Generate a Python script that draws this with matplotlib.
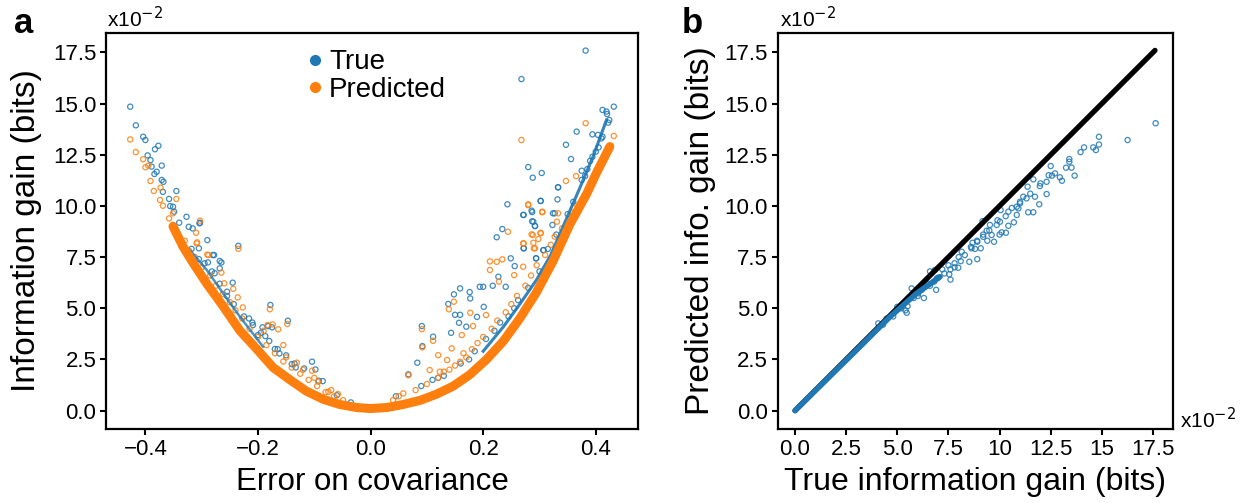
# info gain vs covariance error (a) and predicted vs true info gain (b)

import matplotlib.pyplot as plt
from matplotlib.lines import Line2D

plt.rcParams['font.family'] = ['Liberation Sans', 'DejaVu Sans']

BLUE = '#1f77b4'
ORANGE = '#ff7f0e'

# ---- panel a ----  (values in units of 1e-2 bits)
# dense core of the predicted points
core_pred_x = [-0.351, -0.333, -0.315, -0.291, -0.262, -0.232, -0.202, -0.173, -0.143, -0.114,
               -0.084, -0.055, -0.025, 0.0, 0.029, 0.058, 0.088, 0.117, 0.147, 0.176,
               0.206, 0.236, 0.265, 0.295, 0.324, 0.354, 0.384, 0.401, 0.425]
core_pred_y = [9.0, 8.0, 7.2, 6.2, 5.1, 3.9, 3.0, 2.1, 1.5, 0.95,
               0.55, 0.3, 0.15, 0.1, 0.15, 0.3, 0.5, 0.8, 1.2, 1.75,
               2.5, 3.4, 4.5, 5.8, 7.3, 9.1, 10.6, 11.6, 12.9]

# dense core of the true points, just above the predicted core
core_true_left_x = [-0.321, -0.291, -0.262, -0.232, -0.191]
core_true_left_y = [7.84, 6.87, 5.73, 4.58, 3.12]
core_true_right_x = [0.200, 0.236, 0.265, 0.295, 0.320, 0.342, 0.372, 0.395, 0.419]
core_true_right_y = [2.9, 4.1, 5.2, 6.4, 7.6, 9.0, 10.9, 12.4, 14.2]

true_x = [-0.427, -0.417, -0.404, -0.400, -0.377, -0.383, -0.396, -0.391, -0.371, -0.389,
          -0.380, -0.384, -0.371, -0.368, -0.345, -0.369, -0.358, -0.356, -0.351, -0.349,
          -0.327, -0.340, -0.303, -0.316, -0.323, -0.290, -0.280, -0.235, -0.305, -0.304,
          -0.278, -0.268, -0.265, -0.289, -0.277, -0.268, -0.245, -0.255, -0.178, -0.147,
          -0.216, -0.209, -0.192, -0.182, -0.175, -0.200, -0.187, -0.170, -0.162, -0.104,
          -0.118, -0.133, -0.140, -0.098, -0.085, -0.092, -0.060, -0.035,
          -0.318, -0.305, -0.295, -0.282, -0.268, -0.255, -0.243, -0.225, -0.210, -0.195,
          -0.180, -0.165, -0.150, -0.135,
          0.243, 0.272, 0.302, 0.287, 0.287, 0.292, 0.234, 0.224, 0.272, 0.249,
          0.256, 0.294, 0.307, 0.227, 0.159, 0.176, 0.148, 0.194, 0.200, 0.217,
          0.240, 0.138, 0.201, 0.177, 0.159, 0.150, 0.189, 0.157, 0.091, 0.111,
          0.092, 0.143, 0.170, 0.083, 0.067, 0.327, 0.333, 0.323, 0.045, 0.120,
          0.382, 0.268, 0.432, 0.412, 0.419, 0.420, 0.424, 0.422, 0.366, 0.394,
          0.404, 0.412, 0.347, 0.405, 0.400, 0.394, 0.356, 0.280, 0.304, 0.288,
          0.375, 0.381, 0.375, 0.333, 0.302, 0.332, 0.271, 0.286, 0.324, 0.289,
          0.292, 0.272, 0.307, 0.294,
          0.090, 0.110, 0.130, 0.160, 0.175, 0.185, 0.205, 0.220, 0.230, 0.245,
          0.255, 0.262, 0.280, 0.300, 0.315, 0.330, 0.350, 0.360, 0.385, 0.390,
          0.410]
true_y = [14.85, 13.94, 13.38, 13.22, 12.94, 12.77, 12.47, 12.24, 11.97, 11.92,
          11.67, 11.56, 11.27, 11.18, 10.73, 10.69, 10.34, 9.99, 9.96, 9.72,
          9.47, 9.18, 9.18, 8.90, 8.98, 8.33, 7.60, 8.05, 7.93, 9.15,
          7.60, 7.31, 7.24, 7.24, 6.71, 6.95, 6.25, 5.81, 5.16, 4.39,
          4.50, 4.18, 4.07, 4.13, 4.07, 3.69, 3.64, 3.01, 2.79, 2.39,
          2.06, 2.11, 2.27, 2.01, 1.44, 1.46, 0.75, 0.40,
          7.9, 7.4, 7.2, 6.8, 6.2, 5.6, 5.2, 4.6, 4.3, 3.8,
          3.4, 3.0, 2.7, 2.3,
          10.08, 9.56, 10.25, 9.70, 9.25, 9.02, 8.87, 8.47, 7.93, 7.44,
          7.06, 7.44, 7.84, 6.54, 5.97, 5.79, 5.68, 6.05, 6.05, 6.10,
          6.05, 5.21, 5.07, 5.48, 4.68, 4.68, 4.58, 4.29, 4.13, 3.61,
          3.15, 3.80, 4.10, 2.34, 1.77, 9.64, 10.91, 9.07, 0.70, 1.60,
          17.59, 16.20, 14.85, 14.69, 14.61, 14.49, 14.20, 14.07, 13.63, 13.50,
          13.47, 13.38, 12.99, 12.86, 12.65, 12.40, 12.29, 11.90, 11.61, 11.38,
          11.72, 11.46, 11.27, 10.91, 10.24, 10.32, 9.56, 9.77, 9.64, 9.23,
          9.02, 7.93, 7.84, 7.44,
          1.2, 1.5, 1.7, 2.3, 2.5, 2.9, 3.5, 3.9, 4.3, 4.6,
          5.0, 5.4, 6.0, 6.8, 7.9, 8.6, 9.6, 10.2, 11.8, 12.2,
          13.3]

pred_x = [-0.427, -0.417, -0.404, -0.395, -0.400, -0.391, -0.385, -0.373, -0.374, -0.345,
          -0.369, -0.351, -0.358, -0.303, -0.351, -0.346, -0.342, -0.309, -0.288, -0.235,
          -0.330, -0.310, -0.308, -0.290, -0.265, -0.260, -0.244, -0.236, -0.227, -0.179,
          -0.183, -0.174, -0.164, -0.148, -0.190, -0.155, -0.131, -0.104, -0.093, -0.075,
          -0.058, -0.049,
          -0.330, -0.322, -0.312, -0.300, -0.285, -0.275, -0.262, -0.250, -0.240, -0.228,
          -0.215, -0.200, -0.185, -0.170, -0.155, -0.140, -0.125, -0.110, -0.095, -0.080,
          -0.065, -0.150, -0.120, -0.100, -0.070,
          0.280, 0.244, 0.305, 0.302, 0.286, 0.272, 0.290, 0.234, 0.224, 0.212,
          0.212, 0.228, 0.255, 0.148, 0.177, 0.205, 0.182, 0.139, 0.091, 0.111,
          0.092, 0.120, 0.136, 0.144, 0.162, 0.067, 0.105, 0.123, 0.159, 0.058,
          0.040,
          0.268, 0.382, 0.432, 0.365, 0.347, 0.280, 0.305, 0.288, 0.302, 0.298,
          0.271, 0.289, 0.292, 0.271, 0.333, 0.331, 0.327,
          0.080, 0.100, 0.120, 0.140, 0.150, 0.170, 0.180, 0.190, 0.200, 0.215,
          0.225, 0.240, 0.250, 0.260, 0.275, 0.285, 0.295, 0.310, 0.320, 0.340,
          0.360, 0.050, 0.130, 0.165]
pred_y = [13.25, 12.63, 12.28, 11.97, 11.89, 11.22, 10.73, 10.89, 10.29, 10.34,
          10.01, 9.64, 9.39, 9.28, 9.07, 8.82, 8.58, 8.17, 7.60, 7.91,
          7.88, 8.69, 8.22, 7.62, 6.74, 6.22, 5.95, 5.53, 5.04, 4.95,
          4.18, 4.21, 3.97, 4.23, 3.90, 3.20, 2.34, 1.95, 1.41, 0.92,
          0.81, 0.51,
          8.3, 7.8, 7.5, 7.0, 6.6, 6.1, 5.7, 5.3, 4.9, 4.5,
          4.0, 3.6, 3.2, 2.8, 2.4, 2.1, 1.8, 1.5, 1.2, 0.9,
          0.7, 2.6, 2.0, 1.6, 1.0,
          10.04, 8.74, 9.69, 8.69, 8.61, 8.17, 7.93, 7.39, 7.27, 7.29,
          6.87, 6.30, 6.62, 5.32, 4.78, 4.67, 4.13, 4.95, 3.98, 3.41,
          3.09, 2.71, 2.47, 3.04, 3.69, 1.73, 1.98, 1.90, 2.39, 0.84,
          0.51,
          13.22, 14.04, 13.42, 11.46, 11.22, 10.08, 9.72, 8.58, 8.66, 8.38,
          8.17, 8.20, 7.93, 7.03, 9.64, 9.23, 8.50,
          1.0, 1.3, 1.6, 2.0, 2.2, 2.6, 3.0, 3.3, 3.6, 4.0,
          4.4, 4.8, 5.2, 5.6, 6.1, 6.6, 7.1, 7.6, 8.1, 8.9,
          9.9, 0.7, 1.9, 2.8]

# ---- panel b ----
ident_x = [0.0, 17.6]
ident_y = [0.0, 17.6]
core_b_x = [0.0, 3.01, 4.64, 5.95, 7.09]
core_b_y = [0.0, 2.96, 4.58, 5.73, 6.54]

b_true = [17.63, 16.26, 14.86, 14.86, 14.58, 14.71, 14.13, 13.96, 13.41, 13.41,
          13.52, 13.25, 13.67, 12.50, 12.71, 12.56, 12.95, 13.05, 12.30, 11.97,
          12.30, 11.65, 11.37, 11.73, 11.32, 11.00, 11.94, 11.40, 11.65, 10.84,
          10.43, 10.05, 10.92, 10.02, 10.43, 9.53, 9.86, 10.31, 10.10, 9.61,
          9.73, 9.20, 8.91, 8.68, 9.08, 8.91, 8.52, 8.63, 8.15, 7.98,
          7.54, 6.84, 6.93, 6.35, 5.70, 6.03, 5.46, 5.00, 4.07, 4.48,
          9.17, 9.37, 10.84, 11.16,
          6.2, 6.5, 6.8, 7.2, 7.5, 7.8, 8.0, 8.3, 8.6, 8.9,
          9.2, 9.5, 9.9, 10.3, 10.6, 11.0, 11.5, 12.0, 12.4, 5.2,
          5.5, 5.8, 4.3, 4.8, 6.0, 6.6, 7.0, 7.3, 7.6, 8.1,
          8.8, 9.4, 10.0, 10.7, 5.4, 6.3, 6.9, 7.6, 7.8, 6.6]
b_pred = [14.04, 13.22, 13.38, 13.00, 12.86, 12.73, 12.86, 12.63, 12.29, 12.16,
          11.87, 11.87, 11.48, 11.95, 11.59, 11.48, 11.40, 11.23, 11.18, 10.97,
          10.58, 11.30, 10.94, 10.45, 10.37, 10.13, 10.08, 9.69, 9.69, 9.56,
          9.72, 9.80, 9.88, 9.23, 9.03, 9.07, 9.07, 8.69, 8.71, 8.58,
          8.25, 8.49, 8.25, 8.20, 7.93, 7.40, 7.27, 7.93, 7.76, 6.98,
          6.66, 6.87, 6.46, 6.05, 5.97, 5.73, 4.78, 5.07, 4.26, 4.50,
          9.26, 8.79, 9.96, 10.45,
          5.9, 6.2, 6.3, 6.9, 7.1, 7.2, 7.5, 7.6, 8.0, 8.3,
          8.6, 8.8, 9.3, 9.5, 9.9, 10.2, 10.6, 11.1, 11.5, 5.0,
          5.1, 5.5, 4.2, 4.6, 5.6, 6.1, 6.5, 6.7, 6.9, 7.3,
          7.9, 8.3, 8.6, 9.2, 4.9, 5.5, 5.9, 6.4, 7.0, 6.8]

fig = plt.figure(figsize=(12.5, 5.03), dpi=100)
ax1 = fig.add_axes([0.0848, 0.1471, 0.4256, 0.7873])
ax2 = fig.add_axes([0.6222, 0.1471, 0.3162, 0.7873])

sc = dict(s=14, facecolors='none', linewidths=0.9, alpha=0.85)

ax1.plot(core_true_left_x, core_true_left_y, color=BLUE, lw=1.8, alpha=0.8)
ax1.plot(core_true_right_x, core_true_right_y, color=BLUE, lw=2.2, alpha=0.9)
ax1.scatter(true_x, true_y, edgecolors=BLUE, **sc)
ax1.plot(core_pred_x, core_pred_y, color=ORANGE, lw=6.5, solid_capstyle='round')
ax1.scatter(pred_x, pred_y, edgecolors=ORANGE, **sc)

ax1.set_xlim(-0.470, 0.475)
ax1.set_ylim(-0.90, 18.45)
ax1.set_xticks([-0.4, -0.2, 0.0, 0.2, 0.4])
ax1.set_xticklabels(['\u22120.4', '\u22120.2', '0.0', '0.2', '0.4'])
ax1.set_yticks([0, 2.5, 5, 7.5, 10, 12.5, 15, 17.5])
ax1.set_yticklabels(['0.0', '2.5', '5.0', '7.5', '10.0', '12.5', '15.0', '17.5'])
ax1.set_xlabel('Error on covariance', fontsize=22.5, labelpad=5)
ax1.set_ylabel('Information gain (bits)', fontsize=24, labelpad=8)

handles = [Line2D([], [], ls='none', marker='o', color=BLUE, markersize=7),
           Line2D([], [], ls='none', marker='o', color=ORANGE, markersize=7)]
ax1.legend(handles, ['True', 'Predicted'], loc='upper left', bbox_to_anchor=(0.325, 1.015),
           frameon=False, fontsize=20, handletextpad=0.0, labelspacing=0.05,
           handlelength=1.0, borderpad=0.3)

ax2.plot(ident_x, ident_y, color='black', lw=3.8, solid_capstyle='round')
ax2.plot(core_b_x, core_b_y, color=BLUE, lw=4, solid_capstyle='round')
ax2.scatter(b_true, b_pred, edgecolors=BLUE, **sc)

ax2.set_xlim(-0.845, 18.48)
ax2.set_ylim(-0.90, 18.45)
ax2.set_xticks([0, 2.5, 5, 7.5, 10, 12.5, 15, 17.5])
ax2.set_xticklabels(['0.0', '2.5', '5.0', '7.5', '10', '12.5', '15', '17.5'])
ax2.set_yticks([0, 2.5, 5, 7.5, 10, 12.5, 15, 17.5])
ax2.set_yticklabels(['0.0', '2.5', '5.0', '7.5', '10.0', '12.5', '15.0', '17.5'])
ax2.set_xlabel('True information gain (bits)', fontsize=23, labelpad=5)
ax2.set_ylabel('Predicted info. gain (bits)', fontsize=24, labelpad=6)

for ax in (ax1, ax2):
    for sp in ax.spines.values():
        sp.set_linewidth(1.6)
    ax.tick_params(labelsize=16, width=1.5, length=4, pad=3)

fig.text(107 / 1250, 1 - 27 / 503, 'x10$^{-2}$', fontsize=15, va='baseline')
fig.text(780 / 1250, 1 - 27 / 503, 'x10$^{-2}$', fontsize=15, va='baseline')
fig.text(1180 / 1250, 1 - 428 / 503, 'x10$^{-2}$', fontsize=15, va='baseline')
fig.text(14 / 1250, 1 - 33 / 503, 'a', fontsize=25, fontweight='bold', va='baseline')
fig.text(682 / 1250, 1 - 33 / 503, 'b', fontsize=25, fontweight='bold', va='baseline')

plt.savefig('out.png', dpi=100)
